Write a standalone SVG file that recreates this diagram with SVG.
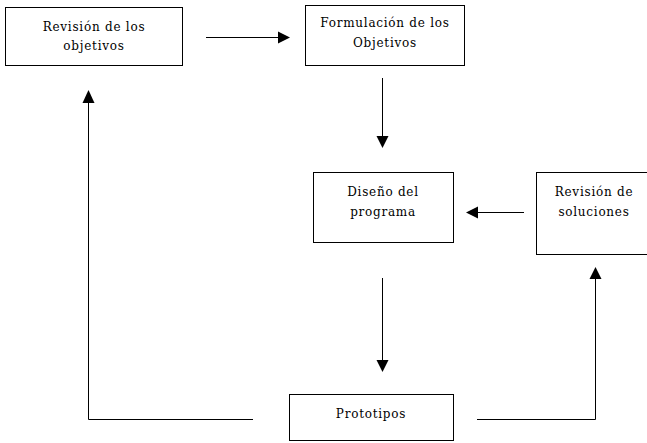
<svg xmlns="http://www.w3.org/2000/svg" width="647" height="443" viewBox="0 0 647 443">
<style>
.box{fill:#fff;stroke:#000;stroke-width:1}
text{font-family:'DejaVu Serif',serif;font-size:12px;font-weight:400;letter-spacing:0.75px;text-anchor:middle;fill:#000}
.c{fill:none;stroke:#000;stroke-width:1}
.ah{fill:#000}
</style>
<rect width="647" height="443" fill="#fff"/>
<g id="revision-objetivos"><rect class="box" x="5.5" y="7.5" width="177" height="58"/><text x="94" y="31">Revisión de los</text><text x="94" y="50">objetivos</text></g>
<g id="formulacion"><rect class="box" x="305.5" y="5.5" width="159" height="60"/><text x="385" y="27">Formulación de los</text><text x="385" y="47">Objetivos</text></g>
<g id="diseno"><rect class="box" x="313.5" y="172.5" width="140" height="70"/><text x="383" y="196">Diseño del</text><text x="383" y="216">programa</text></g>
<g id="revision-soluciones"><rect class="box" x="536.5" y="172.5" width="116" height="82"/><text x="594" y="196">Revisión de</text><text x="594" y="216">soluciones</text></g>
<g id="prototipos"><rect class="box" x="289.5" y="394.5" width="164" height="46"/><text x="371" y="418">Prototipos</text></g>
<g id="connectors">
<line class="c" x1="206" y1="37.5" x2="278" y2="37.5"/><polygon class="ah" points="278,31.5 290,37.5 278,43.5"/>
<line class="c" x1="382.5" y1="78" x2="382.5" y2="137"/><polygon class="ah" points="376.5,136 388.5,136 382.5,148"/>
<line class="c" x1="524" y1="212.5" x2="477" y2="212.5"/><polygon class="ah" points="478,206.5 478,218.5 466,212.5"/>
<line class="c" x1="382.5" y1="278" x2="382.5" y2="361"/><polygon class="ah" points="376.5,360 388.5,360 382.5,372"/>
<polyline class="c" points="253,419.5 88.5,419.5 88.5,102"/><polygon class="ah" points="82.5,103 94.5,103 88.5,90"/>
<polyline class="c" points="477,419.5 595.5,419.5 595.5,278"/><polygon class="ah" points="589.5,279 601.5,279 595.5,267"/>
</g>
</svg>
